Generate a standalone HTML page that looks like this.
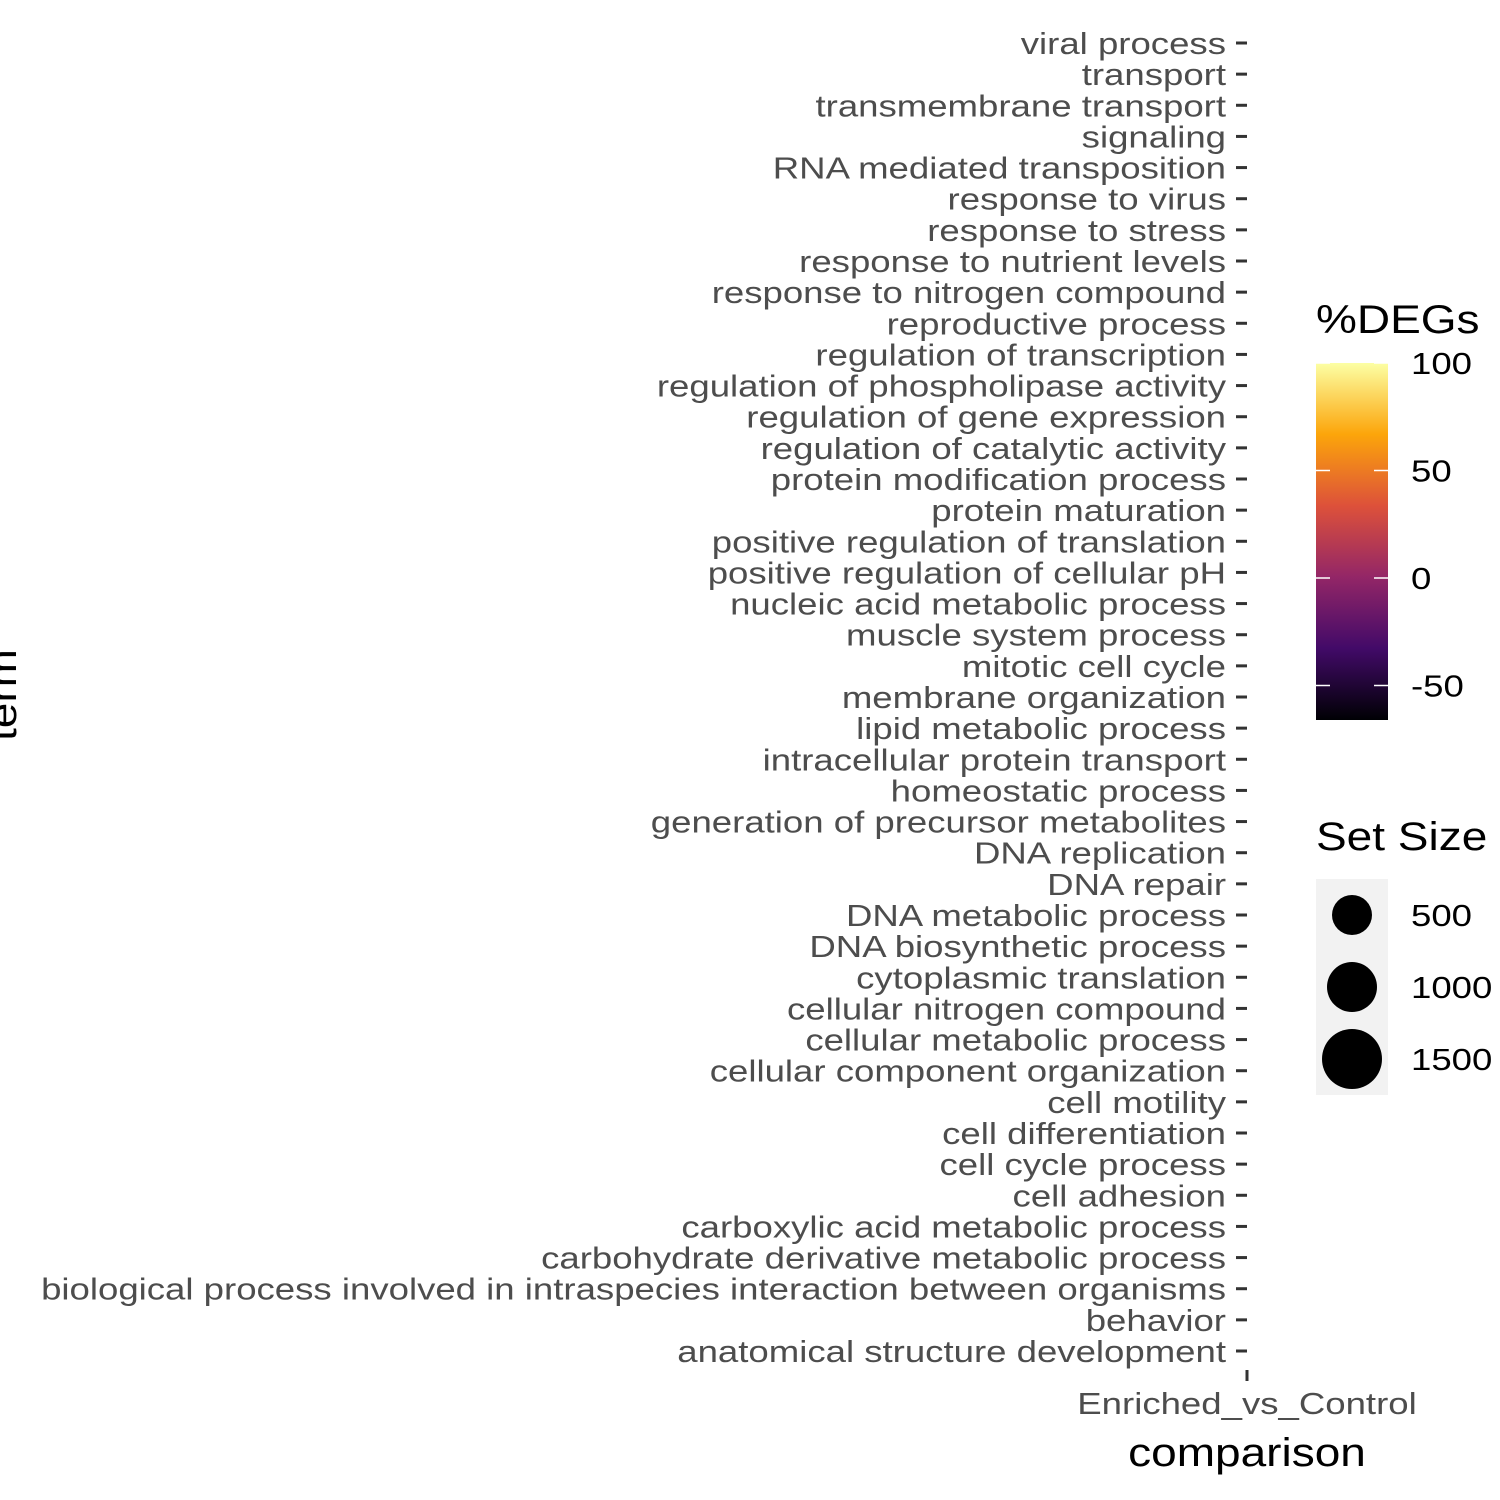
<!DOCTYPE html>
<html><head><meta charset="utf-8"><style>
html,body{margin:0;padding:0;background:#fff;}
svg{display:block;font-family:"Liberation Sans",sans-serif;}
</style></head><body>
<svg id="chart" width="1500" height="1500" viewBox="0 0 1500 1500" xmlns="http://www.w3.org/2000/svg">
<defs>
<linearGradient id="inferno" x1="0" y1="1" x2="0" y2="0">
<stop offset="0" stop-color="#000004"/>
<stop offset="0.2" stop-color="#420a68"/>
<stop offset="0.4" stop-color="#932667"/>
<stop offset="0.6" stop-color="#dd513a"/>
<stop offset="0.8" stop-color="#fca50a"/>
<stop offset="1" stop-color="#fcffa4"/>
</linearGradient>
</defs>
</svg>
<script>
const terms = ["viral process","transport","transmembrane transport","signaling","RNA mediated transposition","response to virus","response to stress","response to nutrient levels","response to nitrogen compound","reproductive process","regulation of transcription","regulation of phospholipase activity","regulation of gene expression","regulation of catalytic activity","protein modification process","protein maturation","positive regulation of translation","positive regulation of cellular pH","nucleic acid metabolic process","muscle system process","mitotic cell cycle","membrane organization","lipid metabolic process","intracellular protein transport","homeostatic process","generation of precursor metabolites","DNA replication","DNA repair","DNA metabolic process","DNA biosynthetic process","cytoplasmic translation","cellular nitrogen compound","cellular metabolic process","cellular component organization","cell motility","cell differentiation","cell cycle process","cell adhesion","carboxylic acid metabolic process","carbohydrate derivative metabolic process","biological process involved in intraspecies interaction between organisms","behavior","anatomical structure development"];
const comparisons = ["Enriched_vs_Control"];
const colorTicks = [100, 50, 0, -50];
const sizeTicks = [500, 1000, 1500];

const svg = document.getElementById('chart');
const NS = "http://www.w3.org/2000/svg";
function mk(tag, attrs, text){
  const e = document.createElementNS(NS, tag);
  for (const k in attrs) e.setAttribute(k, attrs[k]);
  if (text !== undefined) e.textContent = text;
  svg.appendChild(e);
  return e;
}
const SX = 1.18, TX = 1.15;
function tx(x, y, s){ return 'translate(' + x + ',' + y + ') scale(' + s + ',1)'; }
const yTop = 43, yBot = 1351;
function yScale(i){ return yTop + i * (yBot - yTop) / (terms.length - 1); }
terms.forEach((t, i) => {
  const y = yScale(i);
  const tick = mk('line', {x1:1236, x2:1247, y1:y, y2:y, stroke:'#333', 'stroke-width':3});
  
  
  const lab = mk('text', {x:0, y:0, transform:tx(1226, y + 11, SX), 'text-anchor':'end', 'font-size':31, fill:'#4d4d4d'}, t);
  
  
});
function xScale(i){ return 1247; }
comparisons.forEach((c, i) => {
  const x = xScale(i);
  const tick = mk('line', {x1:x, x2:x, y1:1370, y2:1381, stroke:'#333', 'stroke-width':3});
  
  
  const lab = mk('text', {x:0, y:0, transform:tx(x, 1414, SX), 'text-anchor':'middle', 'font-size':31, fill:'#4d4d4d'}, c);
  
  
});
const xt = mk('text', {x:0, y:0, transform:tx(1247, 1466, TX), 'text-anchor':'middle', 'font-size':40, fill:'#000'}, 'comparison');


const yt = mk('text', {x:0, y:0, 'text-anchor':'middle', 'font-size':40, fill:'#000', transform:'translate(16,695) rotate(-90) scale(1.15,1)'}, 'term');



const ct = mk('text', {x:0, y:0, transform:tx(1316, 333, TX), 'font-size':40, fill:'#000'}, '%DEGs');


const bar = mk('rect', {x:1316, y:363, width:72, height:357, fill:'url(#inferno)'});


function cScale(v){ return 578 - v * (578 - 363) / 100; }
colorTicks.forEach(v => {
  const y = cScale(v);
  const t1 = mk('line', {x1:1316, x2:1330, y1:y, y2:y, stroke:'#fff', 'stroke-width':1.5});
  
  
  const t2 = mk('line', {x1:1374, x2:1388, y1:y, y2:y, stroke:'#fff', 'stroke-width':1.5});
  
  
  const l = mk('text', {x:0, y:0, transform:tx(1411, y + 11, SX), 'font-size':31, fill:'#000'}, String(v));
  
  
});

const st = mk('text', {x:0, y:0, transform:tx(1316, 850, TX), 'font-size':40, fill:'#000'}, 'Set Size');


const kb = mk('rect', {x:1316, y:879, width:72, height:216, fill:'#f2f2f2'});


function rScale(v){ return 20 + 10 * (v - 500) / 1000; }
sizeTicks.forEach((v, i) => {
  const y = 915 + i * 72;
  const c = mk('circle', {cx:1352, cy:y, r:rScale(v), fill:'#000'});
  
  
  const l = mk('text', {x:0, y:0, transform:tx(1411, y + 11, SX), 'font-size':31, fill:'#000'}, String(v));
  
  
});
</script>
</body></html>
